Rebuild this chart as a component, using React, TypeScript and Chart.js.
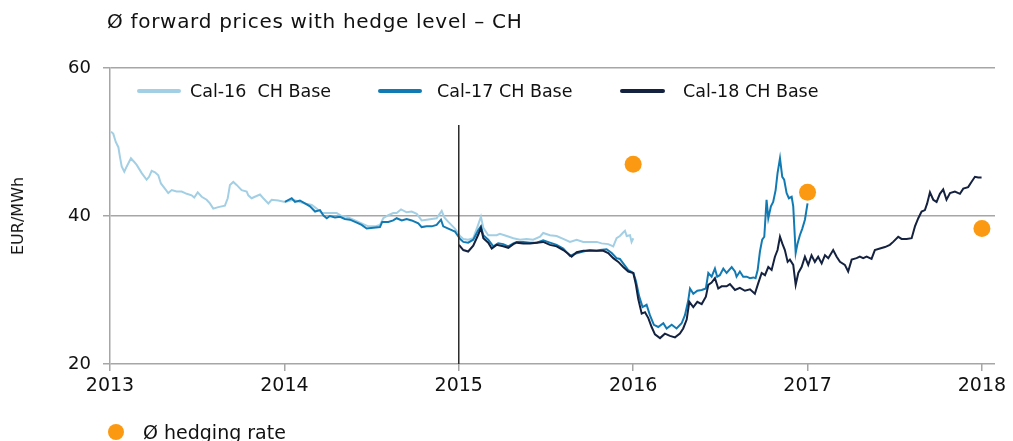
import React, { useEffect, useRef } from "react";
import { Chart, registerables } from "chart.js";

Chart.register(...registerables);

// ---- data (decimal years, EUR/MWh) ----
const cal16Years = [2013.006, 2013.019, 2013.033, 2013.048, 2013.057, 2013.067, 2013.082, 2013.096, 2013.12, 2013.139, 2013.153, 2013.182, 2013.21, 2013.224, 2013.239, 2013.258, 2013.277, 2013.292, 2013.315, 2013.334, 2013.354, 2013.382, 2013.411, 2013.44, 2013.468, 2013.483, 2013.503, 2013.526, 2013.554, 2013.573, 2013.592, 2013.621, 2013.659, 2013.675, 2013.688, 2013.707, 2013.726, 2013.755, 2013.784, 2013.793, 2013.812, 2013.831, 2013.86, 2013.879, 2013.908, 2013.927, 2013.965, 2014.003, 2014.051, 2014.089, 2014.118, 2014.157, 2014.185, 2014.214, 2014.243, 2014.271, 2014.3, 2014.329, 2014.357, 2014.395, 2014.443, 2014.481, 2014.519, 2014.548, 2014.567, 2014.596, 2014.624, 2014.644, 2014.669, 2014.701, 2014.73, 2014.759, 2014.787, 2014.816, 2014.845, 2014.873, 2014.902, 2014.917, 2014.94, 2014.978, 2015.007, 2015.026, 2015.054, 2015.083, 2015.108, 2015.127, 2015.141, 2015.169, 2015.217, 2015.236, 2015.275, 2015.313, 2015.351, 2015.389, 2015.427, 2015.466, 2015.484, 2015.523, 2015.561, 2015.599, 2015.638, 2015.676, 2015.714, 2015.752, 2015.791, 2015.819, 2015.857, 2015.886, 2015.905, 2015.924, 2015.94, 2015.953, 2015.963, 2015.982, 2015.991, 2016.001];
const cal16Values = [51.4, 51.1, 50.0, 49.3, 48.0, 46.7, 46.0, 46.7, 47.8, 47.3, 46.9, 45.8, 44.9, 45.3, 46.1, 45.9, 45.5, 44.4, 43.7, 43.1, 43.5, 43.3, 43.3, 43.0, 42.8, 42.5, 43.2, 42.6, 42.2, 41.7, 41.0, 41.2, 41.4, 42.4, 44.2, 44.6, 44.2, 43.5, 43.3, 42.8, 42.4, 42.6, 42.9, 42.4, 41.7, 42.2, 42.1, 41.9, 42.2, 41.9, 41.7, 41.5, 41.0, 40.4, 40.4, 40.4, 40.4, 40.0, 39.9, 39.5, 39.0, 38.6, 38.6, 38.8, 39.7, 40.1, 40.4, 40.4, 40.9, 40.5, 40.6, 40.3, 39.4, 39.5, 39.6, 39.7, 40.7, 39.8, 39.2, 38.3, 37.3, 36.9, 36.8, 37.0, 38.6, 39.9, 38.4, 37.4, 37.4, 37.6, 37.3, 37.0, 36.8, 36.9, 36.8, 37.2, 37.7, 37.4, 37.3, 36.9, 36.5, 36.8, 36.5, 36.5, 36.5, 36.3, 36.2, 35.9, 37.0, 37.3, 37.7, 38.0, 37.3, 37.4, 36.5, 37.0];

const cal17Years = [2014.003, 2014.042, 2014.061, 2014.089, 2014.118, 2014.147, 2014.176, 2014.204, 2014.223, 2014.243, 2014.261, 2014.29, 2014.319, 2014.347, 2014.376, 2014.415, 2014.443, 2014.472, 2014.51, 2014.548, 2014.561, 2014.596, 2014.624, 2014.644, 2014.673, 2014.701, 2014.73, 2014.768, 2014.787, 2014.816, 2014.845, 2014.873, 2014.898, 2014.911, 2014.94, 2014.978, 2015.007, 2015.026, 2015.054, 2015.083, 2015.112, 2015.127, 2015.141, 2015.169, 2015.198, 2015.226, 2015.255, 2015.284, 2015.313, 2015.332, 2015.37, 2015.408, 2015.447, 2015.484, 2015.523, 2015.561, 2015.599, 2015.638, 2015.666, 2015.714, 2015.752, 2015.791, 2015.81, 2015.848, 2015.877, 2015.905, 2015.924, 2015.943, 2015.972, 2016.001, 2016.016, 2016.035, 2016.054, 2016.077, 2016.096, 2016.119, 2016.144, 2016.173, 2016.192, 2016.221, 2016.249, 2016.278, 2016.297, 2016.316, 2016.326, 2016.345, 2016.368, 2016.393, 2016.417, 2016.431, 2016.45, 2016.469, 2016.482, 2016.497, 2016.517, 2016.536, 2016.565, 2016.584, 2016.593, 2016.612, 2016.631, 2016.651, 2016.67, 2016.689, 2016.702, 2016.714, 2016.727, 2016.74, 2016.752, 2016.765, 2016.775, 2016.79, 2016.803, 2016.817, 2016.828, 2016.842, 2016.855, 2016.866, 2016.88, 2016.893, 2016.909, 2016.918, 2016.932, 2016.943, 2016.956, 2016.97, 2016.985, 2017.0];
const cal17Values = [41.9, 42.4, 41.9, 42.1, 41.7, 41.3, 40.6, 40.8, 40.1, 39.7, 40.0, 39.8, 39.9, 39.6, 39.5, 39.1, 38.8, 38.3, 38.4, 38.5, 39.2, 39.2, 39.4, 39.7, 39.4, 39.6, 39.4, 39.0, 38.5, 38.6, 38.6, 38.8, 39.5, 38.6, 38.3, 37.9, 36.9, 36.5, 36.4, 36.8, 38.1, 38.6, 37.4, 36.8, 35.9, 36.3, 36.2, 35.9, 36.3, 36.5, 36.5, 36.4, 36.4, 36.7, 36.4, 36.1, 35.6, 34.6, 34.9, 35.2, 35.4, 35.3, 35.4, 35.5, 35.0, 34.3, 34.2, 33.6, 32.7, 32.3, 31.2, 29.1, 27.7, 28.0, 26.6, 25.3, 25.0, 25.5, 24.8, 25.3, 24.8, 25.5, 26.6, 28.6, 30.2, 29.5, 29.9, 30.0, 30.2, 32.3, 31.8, 32.9, 31.8, 32.0, 32.9, 32.3, 33.1, 32.5, 31.8, 32.5, 31.8, 31.8, 31.6, 31.7, 31.6, 32.7, 35.2, 36.8, 37.2, 42.2, 39.7, 41.3, 41.9, 43.5, 45.8, 47.8, 45.3, 44.9, 43.1, 42.4, 42.6, 41.3, 35.0, 36.3, 37.4, 38.3, 39.5, 41.7];

const cal18Years = [2015.001, 2015.026, 2015.054, 2015.083, 2015.112, 2015.127, 2015.141, 2015.169, 2015.189, 2015.217, 2015.255, 2015.284, 2015.313, 2015.332, 2015.37, 2015.408, 2015.447, 2015.484, 2015.523, 2015.561, 2015.599, 2015.628, 2015.647, 2015.676, 2015.714, 2015.752, 2015.791, 2015.829, 2015.857, 2015.886, 2015.915, 2015.943, 2015.972, 2016.001, 2016.016, 2016.029, 2016.049, 2016.068, 2016.087, 2016.106, 2016.125, 2016.154, 2016.182, 2016.211, 2016.24, 2016.268, 2016.287, 2016.307, 2016.322, 2016.345, 2016.368, 2016.393, 2016.417, 2016.431, 2016.45, 2016.469, 2016.488, 2016.507, 2016.536, 2016.555, 2016.584, 2016.612, 2016.641, 2016.67, 2016.698, 2016.717, 2016.737, 2016.756, 2016.775, 2016.794, 2016.813, 2016.828, 2016.842, 2016.855, 2016.87, 2016.886, 2016.899, 2016.918, 2016.932, 2016.947, 2016.966, 2016.985, 2017.004, 2017.023, 2017.042, 2017.061, 2017.081, 2017.1, 2017.119, 2017.147, 2017.167, 2017.186, 2017.214, 2017.233, 2017.253, 2017.281, 2017.3, 2017.319, 2017.339, 2017.367, 2017.386, 2017.415, 2017.444, 2017.472, 2017.491, 2017.52, 2017.539, 2017.568, 2017.597, 2017.616, 2017.635, 2017.654, 2017.673, 2017.686, 2017.702, 2017.721, 2017.74, 2017.759, 2017.778, 2017.797, 2017.817, 2017.845, 2017.874, 2017.893, 2017.921, 2017.94, 2017.96, 2017.979, 2017.998];
const cal18Values = [36.1, 35.4, 35.2, 36.0, 37.5, 38.4, 37.0, 36.4, 35.6, 36.1, 35.9, 35.7, 36.2, 36.4, 36.3, 36.3, 36.4, 36.5, 36.1, 35.9, 35.4, 34.9, 34.5, 35.1, 35.3, 35.3, 35.3, 35.3, 35.0, 34.3, 33.8, 33.1, 32.5, 32.3, 30.7, 28.8, 26.8, 27.0, 26.2, 25.0, 24.0, 23.5, 24.1, 23.8, 23.6, 24.1, 24.8, 26.0, 28.4, 27.7, 28.4, 28.1, 29.1, 30.7, 31.0, 31.6, 30.2, 30.5, 30.5, 30.8, 30.0, 30.3, 29.9, 30.1, 29.5, 30.9, 32.3, 32.0, 33.1, 32.7, 34.5, 35.4, 37.2, 36.3, 35.4, 33.8, 34.1, 33.4, 30.7, 32.3, 33.1, 34.5, 33.4, 34.7, 33.8, 34.5, 33.6, 34.7, 34.3, 35.4, 34.5, 33.8, 33.4, 32.5, 34.1, 34.3, 34.5, 34.3, 34.5, 34.2, 35.4, 35.6, 35.8, 36.1, 36.5, 37.2, 36.9, 36.9, 37.0, 38.6, 39.7, 40.6, 40.8, 41.7, 43.2, 42.2, 41.9, 43.0, 43.6, 42.2, 43.1, 43.3, 43.0, 43.7, 43.9, 44.6, 45.3, 45.2, 45.2];

const hedgeYears = [2016, 2017, 2018];
const hedgeValues = [47.0, 43.2, 38.3];

const dividerYears = [2015, 2015];
const dividerValues = [20, 52.3];

const xTickYears = [2013, 2014, 2015, 2016, 2017, 2018];
const yTickValues = [20, 40, 60];

const seriesNames = ["Cal-16  CH Base", "Cal-17 CH Base", "Cal-18 CH Base"];
const hedgeName = "Ø hedging rate";
const titleText = "Ø forward prices with hedge level – CH";
const yAxisTitle = "EUR/MWh";

const C16 = "#a3cfe4";
const C17 = "#127ab3";
const C18 = "#14213f";
const ORANGE = "#fb9a12";
const GRID = "#a6a6a6";
const FONT = "'DejaVu Sans', Verdana, sans-serif";

const pts = (xs: number[], ys: number[]) => xs.map((x, i) => ({ x, y: ys[i] }));

export default function App() {
  const ref = useRef<HTMLCanvasElement>(null);

  useEffect(() => {
    document.body.style.margin = "0";
    const chart = new Chart(ref.current!, {
      type: "line",
      data: {
        datasets: [
          {
            label: hedgeName,
            data: pts(hedgeYears, hedgeValues),
            showLine: false,
            pointRadius: 8.5,
            pointBackgroundColor: ORANGE,
            pointBorderWidth: 0,
            borderColor: ORANGE,
          },
          {
            label: "divider",
            data: pts(dividerYears, dividerValues),
            borderColor: "#2a2a2a",
            borderWidth: 1.5,
            pointRadius: 0,
          },
          {
            label: seriesNames[2],
            data: pts(cal18Years, cal18Values),
            borderColor: C18,
            borderWidth: 2,
            pointRadius: 0,
            tension: 0,
          },
          {
            label: seriesNames[1],
            data: pts(cal17Years, cal17Values),
            borderColor: C17,
            borderWidth: 2,
            pointRadius: 0,
            tension: 0,
          },
          {
            label: seriesNames[0],
            data: pts(cal16Years, cal16Values),
            borderColor: C16,
            borderWidth: 2,
            pointRadius: 0,
            tension: 0,
          },
        ],
      },
      options: {
        animation: false,
        responsive: false,
        maintainAspectRatio: false,
        layout: { padding: { left: 0, top: 68, right: 18, bottom: 0 } },
        plugins: { legend: { display: false }, tooltip: { enabled: false } },
        scales: {
          x: {
            type: "linear",
            min: 2013,
            max: 2018.075,
            afterBuildTicks: (s: any) => {
              s.ticks = xTickYears.map((v) => ({ value: v }));
            },
            afterFit: (s: any) => {
              s.height = 441 - 364;
            },
            grid: { drawOnChartArea: false, drawTicks: true, tickLength: 7, color: GRID, lineWidth: 1.5 },
            border: { display: false },
            ticks: {
              color: "#111",
              padding: 4,
              maxRotation: 0,
              autoSkip: false,
              font: { family: FONT, size: 19 },
              callback: (v: any) => String(v),
            },
          },
          y: {
            type: "linear",
            min: 20,
            max: 60,
            afterBuildTicks: (s: any) => {
              s.ticks = yTickValues.map((v) => ({ value: v }));
            },
            afterFit: (s: any) => {
              s.width = 110;
            },
            grid: { color: GRID, lineWidth: 1.5, tickLength: 7 },
            border: { color: GRID, width: 1.5 },
            ticks: {
              color: "#111",
              padding: 12,
              font: { family: FONT, size: 18 },
            },
          },
        },
      },
    });
    return () => chart.destroy();
  }, []);

  const legendLine = (color: string, left: number, width: number) => (
    <div
      style={{
        position: "absolute",
        left,
        top: 89,
        width,
        height: 4,
        borderRadius: 2,
        background: color,
      }}
    />
  );
  const legendText = (text: string, left: number) => (
    <div
      style={{
        position: "absolute",
        left,
        top: 80,
        lineHeight: "22px",
        fontSize: 17.5,
        fontFamily: FONT,
        color: "#111",
        whiteSpace: "pre",
      }}
    >
      {text}
    </div>
  );

  return (
    <div style={{ position: "absolute", left: 0, top: 0, width: 1013, height: 441, overflow: "hidden", background: "#fff" }}>
      <canvas ref={ref} width={1013} height={441} style={{ position: "absolute", left: 0, top: 0 }} />
      <div
        style={{
          position: "absolute",
          left: 107,
          top: 9,
          fontFamily: FONT,
          fontSize: 20,
          letterSpacing: 0.7,
          lineHeight: "24px",
          color: "#111",
          whiteSpace: "pre",
        }}
      >
        {titleText}
      </div>
      <div
        style={{
          position: "absolute",
          left: 18,
          top: 216,
          transform: "translate(-50%, -50%) rotate(-90deg)",
          fontFamily: FONT,
          fontSize: 16,
          lineHeight: "20px",
          color: "#111",
          whiteSpace: "pre",
        }}
      >
        {yAxisTitle}
      </div>
      {legendLine(C16, 137, 44)}
      {legendText(seriesNames[0], 190)}
      {legendLine(C17, 378, 44)}
      {legendText(seriesNames[1], 437)}
      {legendLine(C18, 620, 45)}
      {legendText(seriesNames[2], 683)}
      <div
        style={{
          position: "absolute",
          left: 108,
          top: 424,
          width: 16,
          height: 16,
          borderRadius: 8,
          background: ORANGE,
        }}
      />
      <div
        style={{
          position: "absolute",
          left: 143,
          top: 420,
          fontFamily: FONT,
          fontSize: 19,
          lineHeight: "24px",
          color: "#111",
          whiteSpace: "pre",
        }}
      >
        {hedgeName}
      </div>
    </div>
  );
}
